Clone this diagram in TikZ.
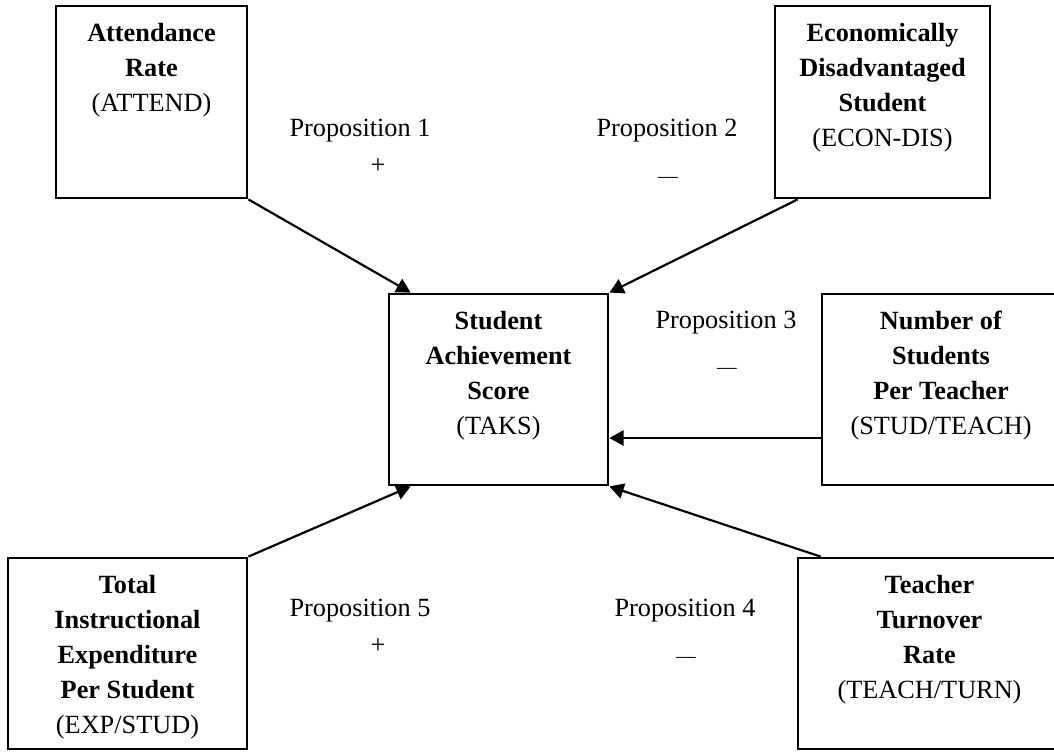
\documentclass[tikz,border=0pt]{standalone}
\usepackage{fontspec}
\setmainfont{Liberation Serif}
\usetikzlibrary{arrows.meta,calc}
\def\pxu{0.4566pt}
\tikzset{
  box/.style={draw, line width=1.3pt, inner sep=0pt},
  boxtext/.style={anchor=north, yshift=-8.3pt, align=center, inner sep=0pt, font=\fontsize{12}{16}\selectfont},
  prop/.style={anchor=base, inner sep=0pt, font=\fontsize{12}{16}\selectfont},
  sign/.style={anchor=base, inner sep=0pt, font=\fontsize{9}{10}\selectfont},
  link/.style={line width=1pt, -{Triangle[length=6.5pt,width=7pt]}}
}

\begin{document}
\begin{tikzpicture}[x=0.4566pt, y=-0.4566pt]
\useasboundingbox (0,0) rectangle (1054,751);
% boxes
\node[box, minimum width=191*\pxu, minimum height=192*\pxu,
  label={[boxtext]north:{\textbf{Attendance}\\ \textbf{Rate}\\ (ATTEND)}}] (att) at (151.5,102) {};
\node[box, minimum width=215*\pxu, minimum height=192*\pxu,
  label={[boxtext]north:{\textbf{Economically}\\ \textbf{Disadvantaged}\\ \textbf{Student}\\ (ECON-DIS)}}] (econ) at (882.5,102) {};
\node[box, minimum width=219*\pxu, minimum height=191*\pxu,
  label={[boxtext]north:{\textbf{Student}\\ \textbf{Achievement}\\ \textbf{Score}\\ (TAKS)}}] (ctr) at (498.5,389.5) {};
\node[box, minimum width=238*\pxu, minimum height=191*\pxu,
  label={[boxtext]north:{\textbf{Number of}\\ \textbf{Students}\\ \textbf{Per Teacher}\\ (STUD/TEACH)}}] (num) at (941,389.5) {};
\node[box, minimum width=239*\pxu, minimum height=191*\pxu,
  label={[boxtext]north:{\textbf{Total}\\ \textbf{Instructional}\\ \textbf{Expenditure}\\ \textbf{Per Student}\\ (EXP/STUD)}}] (tot) at (127.5,653.5) {};
\node[box, minimum width=263*\pxu, minimum height=191*\pxu,
  label={[boxtext]north:{\textbf{Teacher}\\ \textbf{Turnover}\\ \textbf{Rate}\\ (TEACH/TURN)}}] (tch) at (929.5,653.5) {};

% propositions
\node[prop] (p1) at (360,136) {Proposition 1};
\node[prop] (s1) at (378,173) {+};
\node[prop] (p2) at (667,136) {Proposition 2};
\node[sign] (s2) at (668,182) {\textemdash};
\node[prop] (p3) at (726,328) {Proposition 3};
\node[sign] (s3) at (727,373) {\textemdash};
\node[prop] (p4) at (685,616) {Proposition 4};
\node[sign] (s4) at (686,662) {\textemdash};
\node[prop] (p5) at (360,616) {Proposition 5};
\node[prop] (s5) at (378,653) {+};

% arrows
\coordinate (from3) at ($(num.west)+(0,48.5)$);
\draw[link] (att.south east) -- ($(ctr.north west)+(23,0)$);
\draw[link] ($(econ.south west)+(24,0)$) -- (ctr.north east);
\draw[link] (from3) -- (from3 -| ctr.east);
\draw[link] ($(tch.north west)+(24,0)$) -- (ctr.south east);
\draw[link] (tot.north east) -- ($(ctr.south west)+(23,0)$);
\end{tikzpicture}
\end{document}
